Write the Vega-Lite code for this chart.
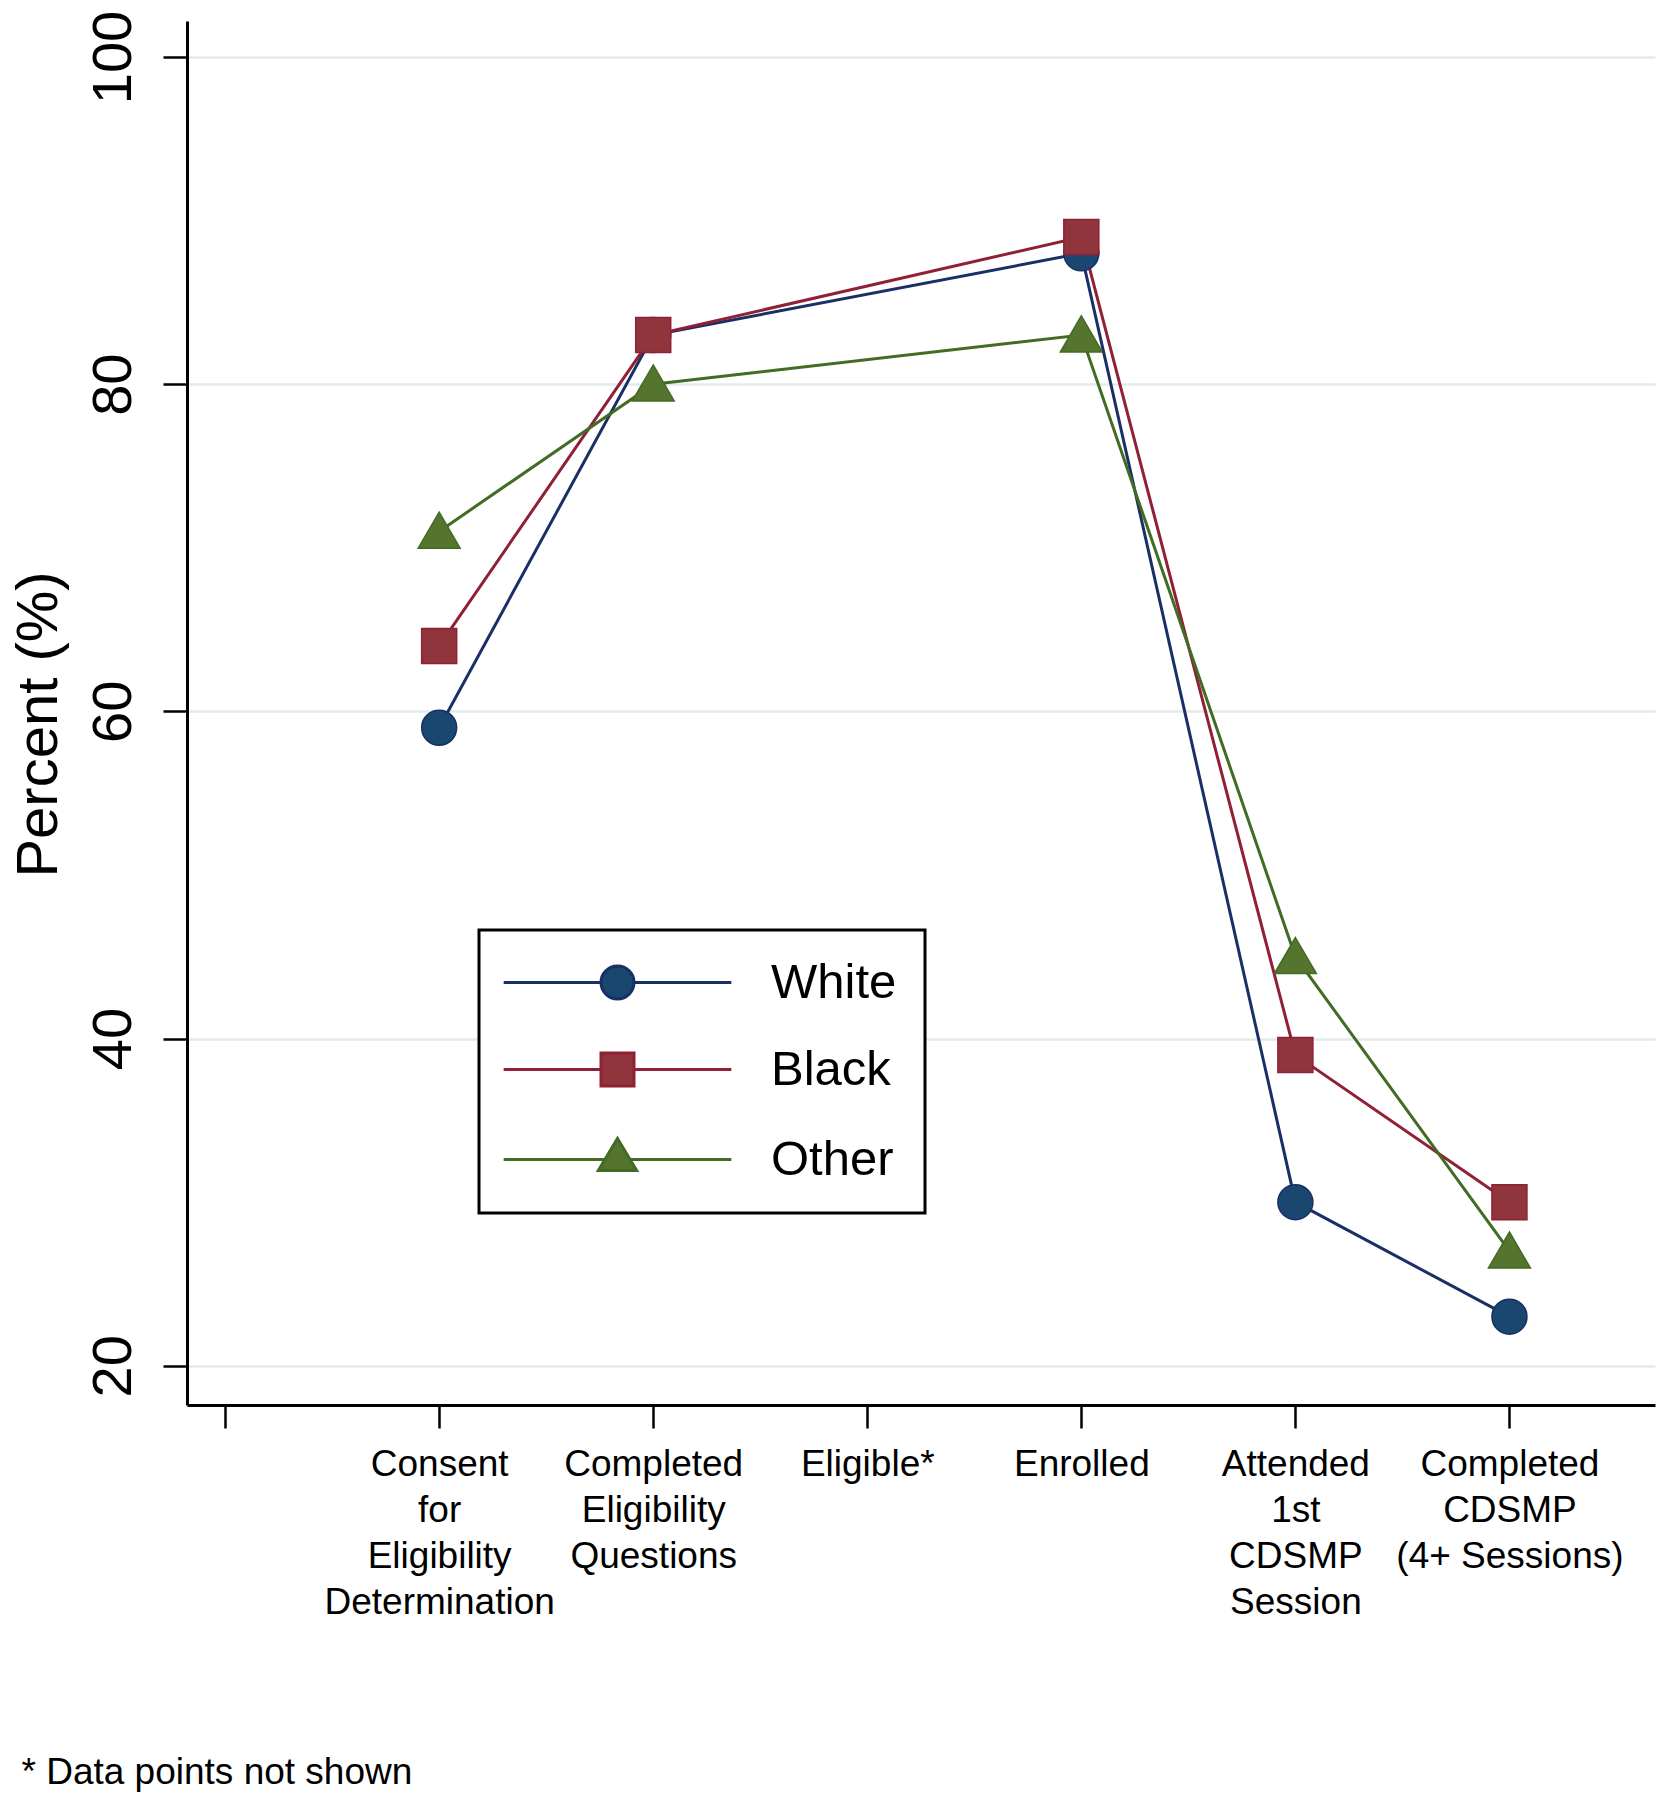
{
  "$schema": "https://vega.github.io/schema/vega-lite/v6.json",
  "width": 1468,
  "height": 1384,
  "autosize": {"type": "none"},
  "padding": {"left": 187, "top": 21, "right": 12, "bottom": 395},
  "background": "white",
  "config": {
    "view": {"stroke": null},
    "font": "Liberation Sans",
    "axis": {"labelFont": "Liberation Sans", "titleFont": "Liberation Sans", "labelColor": "black", "titleColor": "black", "titleFontWeight": "normal"},
    "legend": {"labelFont": "Liberation Sans", "strokeWidth": 3}
  },
  "data": {
    "values": [
      {"group": "White", "step": 1, "percent": 59},
      {"group": "White", "step": 2, "percent": 83},
      {"group": "White", "step": 4, "percent": 88},
      {"group": "White", "step": 5, "percent": 30},
      {"group": "White", "step": 6, "percent": 23},
      {"group": "Black", "step": 1, "percent": 64},
      {"group": "Black", "step": 2, "percent": 83},
      {"group": "Black", "step": 4, "percent": 89},
      {"group": "Black", "step": 5, "percent": 39},
      {"group": "Black", "step": 6, "percent": 30},
      {"group": "Other", "step": 1, "percent": 71},
      {"group": "Other", "step": 2, "percent": 80},
      {"group": "Other", "step": 4, "percent": 83},
      {"group": "Other", "step": 5, "percent": 45},
      {"group": "Other", "step": 6, "percent": 27}
    ]
  },
  "encoding": {
    "x": {
      "field": "step",
      "type": "quantitative",
      "scale": {"domain": [-0.178, 6.68], "nice": false, "zero": false},
      "axis": {
        "values": [0, 1, 2, 3, 4, 5, 6],
        "labelExpr": "datum.value == 1 ? ['Consent', 'for', 'Eligibility', 'Determination'] : datum.value == 2 ? ['Completed', 'Eligibility', 'Questions'] : datum.value == 3 ? 'Eligible*' : datum.value == 4 ? 'Enrolled' : datum.value == 5 ? ['Attended', '1st', 'CDSMP', 'Session'] : datum.value == 6 ? ['Completed', 'CDSMP', '(4+ Sessions)'] : ''",
        "labelFontSize": 37,
        "labelLineHeight": 46,
        "labelPadding": 18,
        "labelBaseline": "top",
        "labelAlign": "center",
        "labelOverlap": false,
        "labelFlush": false,
        "labelBound": false,
        "labelLimit": 1000,
        "tickSize": 23,
        "tickWidth": 2.5,
        "tickColor": "black",
        "domainColor": "black",
        "domainWidth": 3,
        "grid": false,
        "title": "* Data points not shown",
        "titleFontSize": 37,
        "titleX": -166,
        "titleY": 378,
        "titleAlign": "left",
        "titleAnchor": "start",
        "titleBaseline": "alphabetic",
        "titleLimit": 1000,
        "encode": {"ticks": {"update": {"y2": {"signal": "datum.value === 0 ? 12 : 23"}}}}
      }
    },
    "y": {
      "field": "percent",
      "type": "quantitative",
      "scale": {"domain": [17.6, 102.2], "nice": false, "zero": false},
      "axis": {
        "values": [20, 40, 60, 80, 100],
        "labelAngle": -90,
        "labelAlign": "center",
        "labelBaseline": "alphabetic",
        "labelFontSize": 56,
        "labelPadding": 33,
        "tickSize": 24,
        "tickWidth": 2.5,
        "tickColor": "black",
        "domainColor": "black",
        "domainWidth": 3,
        "grid": true,
        "gridColor": "#e1ebee",
        "gridWidth": 2.5,
        "title": "Percent (%)",
        "titleFontSize": 58,
        "titleAngle": -90,
        "titleX": -131,
        "titleY": 703,
        "titleAlign": "center",
        "titleBaseline": "alphabetic",
        "titleLimit": 1000
      }
    }
  },
  "resolve": {"scale": {"fill": "independent", "stroke": "independent", "shape": "independent"}},
  "layer": [
    {
      "mark": {"type": "line", "strokeWidth": 3},
      "encoding": {
        "stroke": {
          "field": "group",
          "type": "nominal",
          "scale": {"range": ["#8f2035", "#426b23", "#1a2f66"]},
          "legend": null
        }
      }
    },
    {
      "mark": {"type": "point", "filled": true, "opacity": 1, "strokeWidth": 1.5, "size": 1225},
      "encoding": {
        "fill": {
          "field": "group",
          "type": "nominal",
          "scale": {"range": ["#90353b", "#55752f", "#1a476f"]},
          "legend": null
        },
        "stroke": {
          "field": "group",
          "type": "nominal",
          "scale": {"range": ["#8f2035", "#426b23", "#1a2f66"]},
          "legend": null
        },
        "shape": {
          "field": "group",
          "type": "nominal",
          "scale": {"range": ["square", "M0,-1.1L1.2,0.96H-1.2Z", "circle"]},
          "legend": null
        }
      }
    },
    {
      "transform": [{"filter": "datum.percent > 1000"}],
      "mark": {"type": "point", "filled": true, "opacity": 1, "strokeWidth": 3},
      "encoding": {
        "fill": {
          "field": "group",
          "type": "nominal",
          "scale": {"domain": ["White", "Black", "Other"], "range": ["#1a476f", "#90353b", "#55752f"]},
          "legend": {"orient": "none", "legendX": 292, "legendY": 909, "title": null, "direction": "vertical", "padding": 28, "strokeColor": "black", "fillColor": "white", "labelFontSize": 49, "labelColor": "black", "labelLimit": 1000, "symbolSize": 1089, "symbolOffset": 86, "labelOffset": 129, "rowPadding": 37, "symbolStrokeWidth": 3, "symbolOpacity": 1}
        },
        "stroke": {
          "field": "group",
          "type": "nominal",
          "scale": {"domain": ["White", "Black", "Other"], "range": ["#1a2f66", "#8f2035", "#426b23"]},
          "legend": {"orient": "none", "legendX": 292, "legendY": 909, "title": null, "direction": "vertical", "padding": 28, "strokeColor": "black", "fillColor": "white", "labelFontSize": 49, "labelColor": "black", "labelLimit": 1000, "symbolSize": 1089, "symbolOffset": 86, "labelOffset": 129, "rowPadding": 37, "symbolStrokeWidth": 3, "symbolOpacity": 1}
        },
        "shape": {
          "field": "group",
          "type": "nominal",
          "scale": {
            "domain": ["White", "Black", "Other"],
            "range": [
              "M-6.9,0H-0.95M0.95,0H6.9M1,0A1,1,0,1,1,-1,0A1,1,0,1,1,1,0Z",
              "M-6.9,0H-1M1,0H6.9M-1,-1H1V1H-1Z",
              "M-6.9,0H-0.76M0.76,0H6.9M0,-1.27L1.16,0.67H-1.16Z"
            ]
          },
          "legend": {"orient": "none", "legendX": 292, "legendY": 909, "title": null, "direction": "vertical", "padding": 28, "strokeColor": "black", "fillColor": "white", "labelFontSize": 49, "labelColor": "black", "labelLimit": 1000, "symbolSize": 1089, "symbolOffset": 86, "labelOffset": 129, "rowPadding": 37, "symbolStrokeWidth": 3, "symbolOpacity": 1}
        }
      }
    }
  ]
}
